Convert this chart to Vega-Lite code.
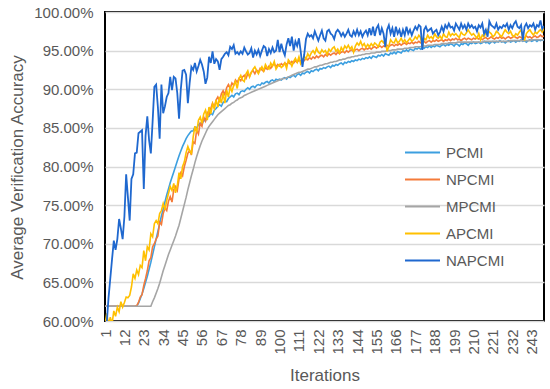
{
"$schema": "https://vega.github.io/schema/vega-lite/v6.json",
"width": 439, "height": 309,
"autosize": {"type": "none"},
"padding": {"left": 105, "top": 12, "right": 6, "bottom": 68},
"background": "white",
"config": {
  "font": "Liberation Sans",
  "view": {"stroke": "#000000", "strokeWidth": 2},
  "axis": {"labelFont": "Liberation Sans", "titleFont": "Liberation Sans", "labelColor": "#595959", "titleColor": "#595959", "titleFontWeight": "normal", "labelFontSize": 15, "titleFontSize": 17, "domain": false, "ticks": false},
  "legend": {"labelFont": "Liberation Sans", "labelFontSize": 15, "labelColor": "#595959"}
},
"data": {"values": [
{"i":1,"PCMI":61.9,"NPCMI":61.9,"MPCMI":61.9,"APCMI":59.5,"NAPCMI":56.5},
{"i":2,"PCMI":61.9,"NPCMI":61.9,"MPCMI":61.9,"APCMI":61.0,"NAPCMI":59.8},
{"i":3,"PCMI":61.9,"NPCMI":61.9,"MPCMI":61.9,"APCMI":59.5,"NAPCMI":63.0},
{"i":4,"PCMI":61.9,"NPCMI":61.9,"MPCMI":61.9,"APCMI":60.5,"NAPCMI":65.5},
{"i":5,"PCMI":61.9,"NPCMI":61.9,"MPCMI":61.9,"APCMI":59.6,"NAPCMI":68.0},
{"i":6,"PCMI":61.9,"NPCMI":61.9,"MPCMI":61.9,"APCMI":61.3,"NAPCMI":70.4},
{"i":7,"PCMI":61.9,"NPCMI":61.9,"MPCMI":61.9,"APCMI":60.6,"NAPCMI":69.2},
{"i":8,"PCMI":61.9,"NPCMI":61.9,"MPCMI":61.9,"APCMI":61.8,"NAPCMI":70.6},
{"i":9,"PCMI":61.9,"NPCMI":61.9,"MPCMI":61.9,"APCMI":61.2,"NAPCMI":73.2},
{"i":10,"PCMI":61.9,"NPCMI":61.9,"MPCMI":61.9,"APCMI":62.5,"NAPCMI":72.0},
{"i":11,"PCMI":61.9,"NPCMI":61.9,"MPCMI":61.9,"APCMI":61.8,"NAPCMI":70.6},
{"i":12,"PCMI":61.9,"NPCMI":61.9,"MPCMI":61.9,"APCMI":62.4,"NAPCMI":73.5},
{"i":13,"PCMI":61.9,"NPCMI":61.9,"MPCMI":61.9,"APCMI":63.1,"NAPCMI":79.0},
{"i":14,"PCMI":61.9,"NPCMI":61.9,"MPCMI":61.9,"APCMI":63.0,"NAPCMI":76.0},
{"i":15,"PCMI":61.9,"NPCMI":61.9,"MPCMI":61.9,"APCMI":63.3,"NAPCMI":73.0},
{"i":16,"PCMI":61.9,"NPCMI":61.9,"MPCMI":61.9,"APCMI":64.4,"NAPCMI":78.4},
{"i":17,"PCMI":61.9,"NPCMI":61.9,"MPCMI":61.9,"APCMI":66.1,"NAPCMI":79.0},
{"i":18,"PCMI":61.9,"NPCMI":61.9,"MPCMI":61.9,"APCMI":65.5,"NAPCMI":81.7},
{"i":19,"PCMI":61.9,"NPCMI":62.0,"MPCMI":61.9,"APCMI":66.6,"NAPCMI":81.8},
{"i":20,"PCMI":62.3,"NPCMI":62.4,"MPCMI":61.9,"APCMI":66.0,"NAPCMI":84.3},
{"i":21,"PCMI":62.9,"NPCMI":63.1,"MPCMI":61.9,"APCMI":67.2,"NAPCMI":84.5},
{"i":22,"PCMI":63.5,"NPCMI":63.4,"MPCMI":61.9,"APCMI":66.9,"NAPCMI":84.7},
{"i":23,"PCMI":64.2,"NPCMI":64.6,"MPCMI":61.9,"APCMI":69.1,"NAPCMI":77.1},
{"i":24,"PCMI":65.0,"NPCMI":65.5,"MPCMI":61.9,"APCMI":67.8,"NAPCMI":84.0},
{"i":25,"PCMI":65.8,"NPCMI":66.5,"MPCMI":61.9,"APCMI":69.6,"NAPCMI":86.5},
{"i":26,"PCMI":66.7,"NPCMI":67.8,"MPCMI":61.9,"APCMI":69.2,"NAPCMI":83.4},
{"i":27,"PCMI":67.6,"NPCMI":68.2,"MPCMI":61.9,"APCMI":71.3,"NAPCMI":81.7},
{"i":28,"PCMI":68.6,"NPCMI":69.6,"MPCMI":62.5,"APCMI":70.9,"NAPCMI":85.8},
{"i":29,"PCMI":69.6,"NPCMI":70.0,"MPCMI":63.0,"APCMI":72.6,"NAPCMI":90.3},
{"i":30,"PCMI":70.6,"NPCMI":70.6,"MPCMI":63.6,"APCMI":73.0,"NAPCMI":90.6},
{"i":31,"PCMI":71.6,"NPCMI":71.0,"MPCMI":64.2,"APCMI":72.6,"NAPCMI":87.7},
{"i":32,"PCMI":72.6,"NPCMI":72.8,"MPCMI":64.9,"APCMI":73.9,"NAPCMI":83.6},
{"i":33,"PCMI":73.6,"NPCMI":72.5,"MPCMI":65.7,"APCMI":74.3,"NAPCMI":90.6},
{"i":34,"PCMI":74.5,"NPCMI":73.9,"MPCMI":66.5,"APCMI":75.2,"NAPCMI":86.9},
{"i":35,"PCMI":75.4,"NPCMI":74.6,"MPCMI":67.2,"APCMI":74.4,"NAPCMI":87.8},
{"i":36,"PCMI":76.3,"NPCMI":74.3,"MPCMI":67.9,"APCMI":75.6,"NAPCMI":89.0},
{"i":37,"PCMI":77.1,"NPCMI":75.5,"MPCMI":68.6,"APCMI":76.5,"NAPCMI":89.5},
{"i":38,"PCMI":77.9,"NPCMI":76.1,"MPCMI":69.2,"APCMI":77.4,"NAPCMI":91.6},
{"i":39,"PCMI":78.6,"NPCMI":75.4,"MPCMI":69.8,"APCMI":76.9,"NAPCMI":89.9},
{"i":40,"PCMI":79.3,"NPCMI":77.0,"MPCMI":70.4,"APCMI":77.8,"NAPCMI":91.6},
{"i":41,"PCMI":80.0,"NPCMI":77.4,"MPCMI":71.0,"APCMI":76.6,"NAPCMI":91.4},
{"i":42,"PCMI":80.7,"NPCMI":76.9,"MPCMI":71.7,"APCMI":77.5,"NAPCMI":89.5},
{"i":43,"PCMI":81.4,"NPCMI":78.4,"MPCMI":72.4,"APCMI":79.2,"NAPCMI":86.2},
{"i":44,"PCMI":82.0,"NPCMI":79.2,"MPCMI":73.3,"APCMI":78.4,"NAPCMI":90.0},
{"i":45,"PCMI":82.6,"NPCMI":78.8,"MPCMI":74.2,"APCMI":80.0,"NAPCMI":92.4},
{"i":46,"PCMI":83.1,"NPCMI":80.0,"MPCMI":75.1,"APCMI":80.6,"NAPCMI":92.5},
{"i":47,"PCMI":83.6,"NPCMI":80.8,"MPCMI":76.0,"APCMI":81.8,"NAPCMI":91.9},
{"i":48,"PCMI":84.0,"NPCMI":81.7,"MPCMI":77.0,"APCMI":82.6,"NAPCMI":88.2},
{"i":49,"PCMI":84.3,"NPCMI":82.1,"MPCMI":77.9,"APCMI":82.0,"NAPCMI":90.8},
{"i":50,"PCMI":84.6,"NPCMI":81.5,"MPCMI":78.8,"APCMI":81.7,"NAPCMI":92.9},
{"i":51,"PCMI":84.6,"NPCMI":83.2,"MPCMI":79.6,"APCMI":83.8,"NAPCMI":92.5},
{"i":52,"PCMI":85.1,"NPCMI":83.0,"MPCMI":80.5,"APCMI":85.2,"NAPCMI":93.4},
{"i":53,"PCMI":85.0,"NPCMI":84.7,"MPCMI":81.3,"APCMI":84.4,"NAPCMI":92.3},
{"i":54,"PCMI":85.4,"NPCMI":84.2,"MPCMI":82.0,"APCMI":86.0,"NAPCMI":93.0},
{"i":55,"PCMI":85.6,"NPCMI":85.6,"MPCMI":82.7,"APCMI":86.4,"NAPCMI":93.8},
{"i":56,"PCMI":85.5,"NPCMI":85.2,"MPCMI":83.3,"APCMI":85.6,"NAPCMI":93.2},
{"i":57,"PCMI":86.0,"NPCMI":86.4,"MPCMI":83.8,"APCMI":86.8,"NAPCMI":92.3},
{"i":58,"PCMI":85.9,"NPCMI":85.9,"MPCMI":84.3,"APCMI":87.3,"NAPCMI":90.7},
{"i":59,"PCMI":86.4,"NPCMI":87.0,"MPCMI":84.8,"APCMI":86.0,"NAPCMI":91.5},
{"i":60,"PCMI":86.5,"NPCMI":86.7,"MPCMI":85.2,"APCMI":87.7,"NAPCMI":94.2},
{"i":61,"PCMI":86.9,"NPCMI":87.5,"MPCMI":85.5,"APCMI":86.8,"NAPCMI":93.4},
{"i":62,"PCMI":86.7,"NPCMI":88.2,"MPCMI":85.8,"APCMI":88.1,"NAPCMI":94.9},
{"i":63,"PCMI":87.3,"NPCMI":87.6,"MPCMI":86.1,"APCMI":87.5,"NAPCMI":93.3},
{"i":64,"PCMI":87.5,"NPCMI":88.6,"MPCMI":86.4,"APCMI":88.6,"NAPCMI":93.9},
{"i":65,"PCMI":87.8,"NPCMI":89.0,"MPCMI":86.7,"APCMI":87.7,"NAPCMI":93.6},
{"i":66,"PCMI":88.0,"NPCMI":88.5,"MPCMI":86.9,"APCMI":89.0,"NAPCMI":92.5},
{"i":67,"PCMI":87.8,"NPCMI":89.4,"MPCMI":87.1,"APCMI":88.2,"NAPCMI":93.9},
{"i":68,"PCMI":88.3,"NPCMI":89.8,"MPCMI":87.3,"APCMI":89.5,"NAPCMI":94.2},
{"i":69,"PCMI":88.5,"NPCMI":89.3,"MPCMI":87.5,"APCMI":88.2,"NAPCMI":94.6},
{"i":70,"PCMI":88.4,"NPCMI":90.2,"MPCMI":87.7,"APCMI":89.9,"NAPCMI":94.8},
{"i":71,"PCMI":88.8,"NPCMI":90.6,"MPCMI":87.9,"APCMI":89.0,"NAPCMI":94.4},
{"i":72,"PCMI":89.0,"NPCMI":90.1,"MPCMI":88.0,"APCMI":90.3,"NAPCMI":95.5},
{"i":73,"PCMI":89.2,"NPCMI":90.8,"MPCMI":88.2,"APCMI":89.7,"NAPCMI":95.2},
{"i":74,"PCMI":89.0,"NPCMI":90.5,"MPCMI":88.3,"APCMI":90.5,"NAPCMI":95.7},
{"i":75,"PCMI":89.4,"NPCMI":91.2,"MPCMI":88.5,"APCMI":91.0,"NAPCMI":94.6},
{"i":76,"PCMI":89.5,"NPCMI":90.9,"MPCMI":88.6,"APCMI":90.1,"NAPCMI":94.8},
{"i":77,"PCMI":89.3,"NPCMI":91.4,"MPCMI":88.8,"APCMI":91.4,"NAPCMI":94.5},
{"i":78,"PCMI":89.7,"NPCMI":91.1,"MPCMI":88.9,"APCMI":91.8,"NAPCMI":94.9},
{"i":79,"PCMI":89.8,"NPCMI":91.6,"MPCMI":89.0,"APCMI":91.2,"NAPCMI":94.6},
{"i":80,"PCMI":89.7,"NPCMI":91.8,"MPCMI":89.2,"APCMI":91.0,"NAPCMI":95.4},
{"i":81,"PCMI":90.0,"NPCMI":91.4,"MPCMI":89.3,"APCMI":92.0,"NAPCMI":94.9},
{"i":82,"PCMI":90.2,"NPCMI":92.0,"MPCMI":89.4,"APCMI":92.4,"NAPCMI":94.5},
{"i":83,"PCMI":90.0,"NPCMI":91.7,"MPCMI":89.5,"APCMI":91.6,"NAPCMI":94.7},
{"i":84,"PCMI":90.3,"NPCMI":92.2,"MPCMI":89.6,"APCMI":92.2,"NAPCMI":95.3},
{"i":85,"PCMI":90.4,"NPCMI":92.4,"MPCMI":89.7,"APCMI":92.6,"NAPCMI":94.1},
{"i":86,"PCMI":90.2,"NPCMI":92.0,"MPCMI":89.8,"APCMI":92.9,"NAPCMI":95.0},
{"i":87,"PCMI":90.5,"NPCMI":92.5,"MPCMI":89.9,"APCMI":92.4,"NAPCMI":94.5},
{"i":88,"PCMI":90.6,"NPCMI":92.2,"MPCMI":90.0,"APCMI":92.0,"NAPCMI":95.1},
{"i":89,"PCMI":90.5,"NPCMI":92.7,"MPCMI":90.1,"APCMI":92.5,"NAPCMI":94.3},
{"i":90,"PCMI":90.8,"NPCMI":92.5,"MPCMI":90.2,"APCMI":92.9,"NAPCMI":95.0},
{"i":91,"PCMI":90.7,"NPCMI":92.3,"MPCMI":90.3,"APCMI":92.4,"NAPCMI":95.6},
{"i":92,"PCMI":90.9,"NPCMI":92.8,"MPCMI":90.4,"APCMI":93.2,"NAPCMI":95.4},
{"i":93,"PCMI":91.0,"NPCMI":92.6,"MPCMI":90.5,"APCMI":92.8,"NAPCMI":94.3},
{"i":94,"PCMI":90.8,"NPCMI":93.0,"MPCMI":90.6,"APCMI":92.6,"NAPCMI":95.2},
{"i":95,"PCMI":91.1,"NPCMI":92.7,"MPCMI":90.7,"APCMI":93.4,"NAPCMI":94.7},
{"i":96,"PCMI":91.2,"NPCMI":93.1,"MPCMI":90.8,"APCMI":93.0,"NAPCMI":95.4},
{"i":97,"PCMI":91.0,"NPCMI":93.3,"MPCMI":90.9,"APCMI":93.6,"NAPCMI":94.8},
{"i":98,"PCMI":91.3,"NPCMI":92.9,"MPCMI":91.0,"APCMI":92.6,"NAPCMI":95.0},
{"i":99,"PCMI":91.2,"NPCMI":93.2,"MPCMI":91.1,"APCMI":93.0,"NAPCMI":96.4},
{"i":100,"PCMI":91.3,"NPCMI":93.0,"MPCMI":91.2,"APCMI":93.2,"NAPCMI":94.8},
{"i":101,"PCMI":91.2,"NPCMI":93.3,"MPCMI":91.3,"APCMI":92.8,"NAPCMI":95.9},
{"i":102,"PCMI":91.4,"NPCMI":93.1,"MPCMI":91.4,"APCMI":93.0,"NAPCMI":95.0},
{"i":103,"PCMI":91.5,"NPCMI":93.4,"MPCMI":91.4,"APCMI":93.4,"NAPCMI":94.4},
{"i":104,"PCMI":91.3,"NPCMI":93.2,"MPCMI":91.5,"APCMI":92.7,"NAPCMI":95.8},
{"i":105,"PCMI":91.6,"NPCMI":93.5,"MPCMI":91.6,"APCMI":93.8,"NAPCMI":96.6},
{"i":106,"PCMI":91.5,"NPCMI":93.3,"MPCMI":91.7,"APCMI":93.5,"NAPCMI":95.6},
{"i":107,"PCMI":91.7,"NPCMI":93.6,"MPCMI":91.8,"APCMI":93.0,"NAPCMI":96.8},
{"i":108,"PCMI":91.8,"NPCMI":93.4,"MPCMI":91.9,"APCMI":93.6,"NAPCMI":95.0},
{"i":109,"PCMI":91.6,"NPCMI":93.7,"MPCMI":92.0,"APCMI":94.0,"NAPCMI":96.2},
{"i":110,"PCMI":91.9,"NPCMI":93.5,"MPCMI":92.1,"APCMI":93.5,"NAPCMI":95.6},
{"i":111,"PCMI":92.0,"NPCMI":93.8,"MPCMI":92.2,"APCMI":94.2,"NAPCMI":96.6},
{"i":112,"PCMI":91.8,"NPCMI":93.6,"MPCMI":92.2,"APCMI":93.3,"NAPCMI":94.9},
{"i":113,"PCMI":92.1,"NPCMI":93.9,"MPCMI":92.3,"APCMI":93.7,"NAPCMI":92.9},
{"i":114,"PCMI":92.0,"NPCMI":93.7,"MPCMI":92.4,"APCMI":94.3,"NAPCMI":94.5},
{"i":115,"PCMI":92.2,"NPCMI":94.0,"MPCMI":92.5,"APCMI":93.9,"NAPCMI":96.5},
{"i":116,"PCMI":92.3,"NPCMI":93.8,"MPCMI":92.6,"APCMI":94.6,"NAPCMI":97.2},
{"i":117,"PCMI":92.1,"NPCMI":94.1,"MPCMI":92.6,"APCMI":94.2,"NAPCMI":96.8},
{"i":118,"PCMI":92.4,"NPCMI":93.9,"MPCMI":92.7,"APCMI":94.7,"NAPCMI":97.0},
{"i":119,"PCMI":92.3,"NPCMI":94.2,"MPCMI":92.8,"APCMI":95.0,"NAPCMI":96.6},
{"i":120,"PCMI":92.5,"NPCMI":94.0,"MPCMI":92.9,"APCMI":94.6,"NAPCMI":97.5},
{"i":121,"PCMI":92.6,"NPCMI":94.3,"MPCMI":92.9,"APCMI":95.3,"NAPCMI":96.9},
{"i":122,"PCMI":92.4,"NPCMI":94.1,"MPCMI":93.0,"APCMI":94.8,"NAPCMI":96.3},
{"i":123,"PCMI":92.7,"NPCMI":94.3,"MPCMI":93.1,"APCMI":94.6,"NAPCMI":97.0},
{"i":124,"PCMI":92.6,"NPCMI":94.4,"MPCMI":93.1,"APCMI":95.1,"NAPCMI":97.6},
{"i":125,"PCMI":92.8,"NPCMI":94.2,"MPCMI":93.2,"APCMI":94.8,"NAPCMI":96.6},
{"i":126,"PCMI":92.7,"NPCMI":94.5,"MPCMI":93.3,"APCMI":95.0,"NAPCMI":96.3},
{"i":127,"PCMI":92.9,"NPCMI":94.3,"MPCMI":93.3,"APCMI":94.5,"NAPCMI":97.5},
{"i":128,"PCMI":93.0,"NPCMI":94.6,"MPCMI":93.4,"APCMI":95.2,"NAPCMI":97.7},
{"i":129,"PCMI":92.8,"NPCMI":94.4,"MPCMI":93.5,"APCMI":94.9,"NAPCMI":97.2},
{"i":130,"PCMI":93.1,"NPCMI":94.6,"MPCMI":93.5,"APCMI":95.3,"NAPCMI":97.0},
{"i":131,"PCMI":93.0,"NPCMI":94.7,"MPCMI":93.6,"APCMI":95.5,"NAPCMI":96.5},
{"i":132,"PCMI":93.2,"NPCMI":94.5,"MPCMI":93.6,"APCMI":94.9,"NAPCMI":97.4},
{"i":133,"PCMI":93.1,"NPCMI":94.8,"MPCMI":93.7,"APCMI":95.2,"NAPCMI":97.7},
{"i":134,"PCMI":93.3,"NPCMI":94.6,"MPCMI":93.8,"APCMI":94.7,"NAPCMI":97.4},
{"i":135,"PCMI":93.4,"NPCMI":94.8,"MPCMI":93.8,"APCMI":95.4,"NAPCMI":96.9},
{"i":136,"PCMI":93.2,"NPCMI":94.9,"MPCMI":93.9,"APCMI":95.0,"NAPCMI":97.3},
{"i":137,"PCMI":93.5,"NPCMI":94.7,"MPCMI":93.9,"APCMI":95.6,"NAPCMI":96.8},
{"i":138,"PCMI":93.4,"NPCMI":95.0,"MPCMI":94.0,"APCMI":95.3,"NAPCMI":97.2},
{"i":139,"PCMI":93.6,"NPCMI":94.8,"MPCMI":94.1,"APCMI":95.7,"NAPCMI":97.7},
{"i":140,"PCMI":93.5,"NPCMI":95.0,"MPCMI":94.1,"APCMI":95.2,"NAPCMI":97.0},
{"i":141,"PCMI":93.7,"NPCMI":95.1,"MPCMI":94.2,"APCMI":95.5,"NAPCMI":96.8},
{"i":142,"PCMI":93.6,"NPCMI":94.9,"MPCMI":94.2,"APCMI":94.8,"NAPCMI":97.5},
{"i":143,"PCMI":93.8,"NPCMI":95.1,"MPCMI":94.3,"APCMI":95.6,"NAPCMI":97.0},
{"i":144,"PCMI":93.7,"NPCMI":95.2,"MPCMI":94.3,"APCMI":96.0,"NAPCMI":97.7},
{"i":145,"PCMI":93.9,"NPCMI":95.0,"MPCMI":94.4,"APCMI":95.7,"NAPCMI":97.0},
{"i":146,"PCMI":93.8,"NPCMI":95.2,"MPCMI":94.4,"APCMI":96.2,"NAPCMI":97.5},
{"i":147,"PCMI":94.0,"NPCMI":95.3,"MPCMI":94.5,"APCMI":95.6,"NAPCMI":96.8},
{"i":148,"PCMI":93.9,"NPCMI":95.1,"MPCMI":94.5,"APCMI":95.9,"NAPCMI":97.3},
{"i":149,"PCMI":94.1,"NPCMI":95.3,"MPCMI":94.6,"APCMI":95.4,"NAPCMI":97.6},
{"i":150,"PCMI":94.0,"NPCMI":95.2,"MPCMI":94.6,"APCMI":95.8,"NAPCMI":97.0},
{"i":151,"PCMI":94.2,"NPCMI":95.4,"MPCMI":94.6,"APCMI":95.5,"NAPCMI":97.9},
{"i":152,"PCMI":94.0,"NPCMI":95.2,"MPCMI":94.7,"APCMI":95.9,"NAPCMI":97.0},
{"i":153,"PCMI":94.3,"NPCMI":95.4,"MPCMI":94.7,"APCMI":95.6,"NAPCMI":98.1},
{"i":154,"PCMI":94.2,"NPCMI":95.5,"MPCMI":94.7,"APCMI":96.0,"NAPCMI":96.9},
{"i":155,"PCMI":94.1,"NPCMI":95.3,"MPCMI":94.8,"APCMI":95.8,"NAPCMI":97.9},
{"i":156,"PCMI":94.4,"NPCMI":95.5,"MPCMI":94.8,"APCMI":95.5,"NAPCMI":98.3},
{"i":157,"PCMI":94.3,"NPCMI":95.6,"MPCMI":94.8,"APCMI":96.1,"NAPCMI":97.0},
{"i":158,"PCMI":94.5,"NPCMI":95.4,"MPCMI":94.9,"APCMI":96.3,"NAPCMI":97.9},
{"i":159,"PCMI":94.3,"NPCMI":95.6,"MPCMI":94.9,"APCMI":96.0,"NAPCMI":97.2},
{"i":160,"PCMI":94.6,"NPCMI":95.5,"MPCMI":94.9,"APCMI":96.4,"NAPCMI":95.5},
{"i":161,"PCMI":94.5,"NPCMI":95.7,"MPCMI":95.0,"APCMI":94.9,"NAPCMI":97.7},
{"i":162,"PCMI":94.4,"NPCMI":95.5,"MPCMI":95.0,"APCMI":95.6,"NAPCMI":98.3},
{"i":163,"PCMI":94.7,"NPCMI":95.7,"MPCMI":95.0,"APCMI":96.4,"NAPCMI":97.2},
{"i":164,"PCMI":94.6,"NPCMI":95.8,"MPCMI":95.1,"APCMI":96.1,"NAPCMI":97.9},
{"i":165,"PCMI":94.8,"NPCMI":95.6,"MPCMI":95.1,"APCMI":96.0,"NAPCMI":96.8},
{"i":166,"PCMI":94.6,"NPCMI":95.8,"MPCMI":95.1,"APCMI":96.5,"NAPCMI":98.1},
{"i":167,"PCMI":94.9,"NPCMI":95.7,"MPCMI":95.2,"APCMI":96.0,"NAPCMI":97.2},
{"i":168,"PCMI":94.8,"NPCMI":95.9,"MPCMI":95.2,"APCMI":96.2,"NAPCMI":97.7},
{"i":169,"PCMI":94.7,"NPCMI":95.7,"MPCMI":95.2,"APCMI":96.6,"NAPCMI":96.8},
{"i":170,"PCMI":95.0,"NPCMI":95.9,"MPCMI":95.2,"APCMI":96.1,"NAPCMI":97.7},
{"i":171,"PCMI":94.9,"NPCMI":96.0,"MPCMI":95.3,"APCMI":96.4,"NAPCMI":97.0},
{"i":172,"PCMI":95.1,"NPCMI":95.8,"MPCMI":95.3,"APCMI":96.0,"NAPCMI":98.1},
{"i":173,"PCMI":94.9,"NPCMI":96.0,"MPCMI":95.3,"APCMI":96.3,"NAPCMI":97.2},
{"i":174,"PCMI":95.2,"NPCMI":95.9,"MPCMI":95.4,"APCMI":96.6,"NAPCMI":97.7},
{"i":175,"PCMI":95.1,"NPCMI":96.1,"MPCMI":95.4,"APCMI":96.2,"NAPCMI":97.0},
{"i":176,"PCMI":95.0,"NPCMI":95.9,"MPCMI":95.4,"APCMI":96.4,"NAPCMI":97.6},
{"i":177,"PCMI":95.3,"NPCMI":96.1,"MPCMI":95.5,"APCMI":96.8,"NAPCMI":98.1},
{"i":178,"PCMI":95.2,"NPCMI":96.0,"MPCMI":95.5,"APCMI":96.5,"NAPCMI":97.7},
{"i":179,"PCMI":95.4,"NPCMI":96.2,"MPCMI":95.5,"APCMI":97.0,"NAPCMI":98.3},
{"i":180,"PCMI":95.2,"NPCMI":96.0,"MPCMI":95.5,"APCMI":96.7,"NAPCMI":98.1},
{"i":181,"PCMI":95.4,"NPCMI":96.1,"MPCMI":95.6,"APCMI":95.5,"NAPCMI":95.1},
{"i":182,"PCMI":95.3,"NPCMI":96.2,"MPCMI":95.6,"APCMI":96.6,"NAPCMI":97.7},
{"i":183,"PCMI":95.5,"NPCMI":96.0,"MPCMI":95.6,"APCMI":96.4,"NAPCMI":98.1},
{"i":184,"PCMI":95.4,"NPCMI":96.2,"MPCMI":95.7,"APCMI":97.0,"NAPCMI":97.5},
{"i":185,"PCMI":95.6,"NPCMI":96.3,"MPCMI":95.7,"APCMI":96.6,"NAPCMI":97.7},
{"i":186,"PCMI":95.4,"NPCMI":96.1,"MPCMI":95.7,"APCMI":96.8,"NAPCMI":97.9},
{"i":187,"PCMI":95.6,"NPCMI":96.3,"MPCMI":95.7,"APCMI":96.5,"NAPCMI":97.2},
{"i":188,"PCMI":95.5,"NPCMI":96.2,"MPCMI":95.8,"APCMI":97.2,"NAPCMI":97.5},
{"i":189,"PCMI":95.7,"NPCMI":96.4,"MPCMI":95.8,"APCMI":96.8,"NAPCMI":97.7},
{"i":190,"PCMI":95.6,"NPCMI":96.2,"MPCMI":95.8,"APCMI":96.6,"NAPCMI":97.0},
{"i":191,"PCMI":95.5,"NPCMI":96.3,"MPCMI":95.8,"APCMI":96.9,"NAPCMI":97.4},
{"i":192,"PCMI":95.7,"NPCMI":96.4,"MPCMI":95.9,"APCMI":96.5,"NAPCMI":98.1},
{"i":193,"PCMI":95.8,"NPCMI":96.2,"MPCMI":95.9,"APCMI":97.2,"NAPCMI":97.5},
{"i":194,"PCMI":95.6,"NPCMI":96.4,"MPCMI":95.9,"APCMI":96.8,"NAPCMI":98.3},
{"i":195,"PCMI":95.8,"NPCMI":96.3,"MPCMI":95.9,"APCMI":96.7,"NAPCMI":97.9},
{"i":196,"PCMI":95.7,"NPCMI":96.5,"MPCMI":96.0,"APCMI":97.4,"NAPCMI":98.5},
{"i":197,"PCMI":95.9,"NPCMI":96.3,"MPCMI":96.0,"APCMI":96.9,"NAPCMI":98.0},
{"i":198,"PCMI":95.8,"NPCMI":96.5,"MPCMI":96.0,"APCMI":97.2,"NAPCMI":98.1},
{"i":199,"PCMI":95.6,"NPCMI":96.4,"MPCMI":96.0,"APCMI":97.0,"NAPCMI":97.6},
{"i":200,"PCMI":95.9,"NPCMI":96.6,"MPCMI":96.0,"APCMI":97.2,"NAPCMI":98.5},
{"i":201,"PCMI":95.8,"NPCMI":96.4,"MPCMI":96.1,"APCMI":96.9,"NAPCMI":98.1},
{"i":202,"PCMI":95.6,"NPCMI":96.5,"MPCMI":96.1,"APCMI":96.7,"NAPCMI":97.7},
{"i":203,"PCMI":95.9,"NPCMI":96.3,"MPCMI":96.1,"APCMI":97.4,"NAPCMI":98.5},
{"i":204,"PCMI":95.8,"NPCMI":96.5,"MPCMI":96.1,"APCMI":97.1,"NAPCMI":97.9},
{"i":205,"PCMI":96.0,"NPCMI":96.6,"MPCMI":96.1,"APCMI":97.0,"NAPCMI":98.3},
{"i":206,"PCMI":95.9,"NPCMI":96.4,"MPCMI":96.1,"APCMI":97.3,"NAPCMI":97.7},
{"i":207,"PCMI":95.7,"NPCMI":96.6,"MPCMI":96.1,"APCMI":97.7,"NAPCMI":98.5},
{"i":208,"PCMI":96.0,"NPCMI":96.5,"MPCMI":96.1,"APCMI":97.3,"NAPCMI":98.0},
{"i":209,"PCMI":95.9,"NPCMI":96.4,"MPCMI":96.1,"APCMI":97.0,"NAPCMI":98.3},
{"i":210,"PCMI":96.1,"NPCMI":96.6,"MPCMI":96.1,"APCMI":97.2,"NAPCMI":97.9},
{"i":211,"PCMI":95.9,"NPCMI":96.5,"MPCMI":96.1,"APCMI":96.9,"NAPCMI":98.1},
{"i":212,"PCMI":96.0,"NPCMI":96.7,"MPCMI":96.1,"APCMI":96.6,"NAPCMI":97.5},
{"i":213,"PCMI":96.1,"NPCMI":96.5,"MPCMI":96.1,"APCMI":97.2,"NAPCMI":98.3},
{"i":214,"PCMI":95.9,"NPCMI":96.6,"MPCMI":96.1,"APCMI":96.4,"NAPCMI":98.0},
{"i":215,"PCMI":96.0,"NPCMI":96.4,"MPCMI":96.1,"APCMI":97.0,"NAPCMI":98.5},
{"i":216,"PCMI":96.2,"NPCMI":96.6,"MPCMI":96.2,"APCMI":96.8,"NAPCMI":97.2},
{"i":217,"PCMI":96.0,"NPCMI":96.7,"MPCMI":96.2,"APCMI":97.3,"NAPCMI":97.7},
{"i":218,"PCMI":96.1,"NPCMI":96.5,"MPCMI":96.2,"APCMI":97.7,"NAPCMI":96.8},
{"i":219,"PCMI":95.9,"NPCMI":96.6,"MPCMI":96.2,"APCMI":97.4,"NAPCMI":98.8},
{"i":220,"PCMI":96.1,"NPCMI":96.8,"MPCMI":96.2,"APCMI":97.2,"NAPCMI":98.3},
{"i":221,"PCMI":96.2,"NPCMI":96.6,"MPCMI":96.2,"APCMI":96.8,"NAPCMI":98.1},
{"i":222,"PCMI":96.0,"NPCMI":96.5,"MPCMI":96.2,"APCMI":97.0,"NAPCMI":97.9},
{"i":223,"PCMI":96.2,"NPCMI":96.7,"MPCMI":96.2,"APCMI":97.5,"NAPCMI":98.5},
{"i":224,"PCMI":96.1,"NPCMI":96.6,"MPCMI":96.2,"APCMI":97.3,"NAPCMI":97.7},
{"i":225,"PCMI":96.3,"NPCMI":96.8,"MPCMI":96.2,"APCMI":97.0,"NAPCMI":98.1},
{"i":226,"PCMI":96.1,"NPCMI":96.6,"MPCMI":96.2,"APCMI":96.8,"NAPCMI":97.9},
{"i":227,"PCMI":96.2,"NPCMI":96.7,"MPCMI":96.2,"APCMI":97.3,"NAPCMI":98.3},
{"i":228,"PCMI":96.0,"NPCMI":96.5,"MPCMI":96.2,"APCMI":97.7,"NAPCMI":98.1},
{"i":229,"PCMI":96.2,"NPCMI":96.7,"MPCMI":96.2,"APCMI":97.4,"NAPCMI":98.5},
{"i":230,"PCMI":96.3,"NPCMI":96.8,"MPCMI":96.2,"APCMI":97.2,"NAPCMI":97.7},
{"i":231,"PCMI":96.1,"NPCMI":96.6,"MPCMI":96.3,"APCMI":97.5,"NAPCMI":98.3},
{"i":232,"PCMI":96.2,"NPCMI":96.7,"MPCMI":96.3,"APCMI":97.0,"NAPCMI":97.9},
{"i":233,"PCMI":96.3,"NPCMI":96.9,"MPCMI":96.3,"APCMI":96.8,"NAPCMI":98.5},
{"i":234,"PCMI":96.1,"NPCMI":96.7,"MPCMI":96.3,"APCMI":97.2,"NAPCMI":98.8},
{"i":235,"PCMI":96.3,"NPCMI":96.6,"MPCMI":96.3,"APCMI":97.0,"NAPCMI":98.1},
{"i":236,"PCMI":96.2,"NPCMI":96.8,"MPCMI":96.3,"APCMI":97.4,"NAPCMI":97.9},
{"i":237,"PCMI":96.4,"NPCMI":96.7,"MPCMI":96.3,"APCMI":97.7,"NAPCMI":98.3},
{"i":238,"PCMI":96.2,"NPCMI":96.5,"MPCMI":96.3,"APCMI":96.6,"NAPCMI":96.4},
{"i":239,"PCMI":96.3,"NPCMI":96.7,"MPCMI":96.3,"APCMI":96.4,"NAPCMI":98.1},
{"i":240,"PCMI":96.1,"NPCMI":96.9,"MPCMI":96.3,"APCMI":97.2,"NAPCMI":98.5},
{"i":241,"PCMI":96.3,"NPCMI":96.7,"MPCMI":96.3,"APCMI":97.5,"NAPCMI":97.9},
{"i":242,"PCMI":96.4,"NPCMI":96.8,"MPCMI":96.3,"APCMI":97.7,"NAPCMI":98.3},
{"i":243,"PCMI":96.2,"NPCMI":96.6,"MPCMI":96.4,"APCMI":97.3,"NAPCMI":98.1},
{"i":244,"PCMI":96.3,"NPCMI":96.8,"MPCMI":96.4,"APCMI":97.0,"NAPCMI":98.5},
{"i":245,"PCMI":96.4,"NPCMI":96.9,"MPCMI":96.4,"APCMI":97.4,"NAPCMI":97.7},
{"i":246,"PCMI":96.2,"NPCMI":96.7,"MPCMI":96.4,"APCMI":97.2,"NAPCMI":98.3},
{"i":247,"PCMI":96.4,"NPCMI":96.8,"MPCMI":96.4,"APCMI":97.5,"NAPCMI":98.1},
{"i":248,"PCMI":96.3,"NPCMI":97.0,"MPCMI":96.4,"APCMI":97.7,"NAPCMI":98.9},
{"i":249,"PCMI":96.4,"NPCMI":96.8,"MPCMI":96.4,"APCMI":97.4,"NAPCMI":97.8},
{"i":250,"PCMI":96.3,"NPCMI":96.9,"MPCMI":96.4,"APCMI":97.9,"NAPCMI":98.2}
]},
"transform": [{"fold": ["PCMI", "NPCMI", "MPCMI", "APCMI", "NAPCMI"], "as": ["series", "acc"]}],
"encoding": {
  "x": {"field": "i", "type": "quantitative",
    "scale": {"domain": [1, 250], "nice": false, "zero": false},
    "axis": {"title": "Iterations", "values": [1,12,23,34,45,56,67,78,89,100,111,122,133,144,155,166,177,188,199,210,221,232,243],
      "labelAngle": -90, "labelAlign": "right", "labelBaseline": "middle", "labelPadding": 8, "grid": false,
      "labelFlush": false, "labelOverlap": false, "titleY": 46, "titleBaseline": "top", "titleFontSize": 17}},
  "y": {"field": "acc", "type": "quantitative",
    "scale": {"domain": [60, 100], "nice": false, "zero": false},
    "axis": {"title": "Average Verification Accuracy", "values": [60,65,70,75,80,85,90,95,100],
      "labelExpr": "format(datum.value, '.2f') + '%'", "labelPadding": 12,
      "gridColor": "#D9D9D9", "gridWidth": 1.5,
      "titleX": -88, "titleY": 155, "titleAngle": -90, "titleBaseline": "middle", "titleAlign": "center"}},
  "color": {"field": "series", "type": "nominal",
    "scale": {"domain": ["PCMI", "NPCMI", "MPCMI", "APCMI", "NAPCMI"], "range": ["#3C9FE0", "#F47B3A", "#A5A5A5", "#FFC000", "#1F68CF"]},
    "legend": {"title": null, "orient": "none", "legendX": 299, "legendY": 122, "symbolType": "stroke", "symbolSize": 1225,
      "symbolStrokeWidth": 1.8, "labelOffset": 5, "rowPadding": -8, "padding": 0, "labelFontSize": 15, "labelColor": "#595959"}}
},
"layer": [
  {"transform": [{"filter": {"field": "series", "equal": "PCMI"}}], "mark": {"type": "line", "clip": true, "strokeWidth": 1.6}},
  {"transform": [{"filter": {"field": "series", "equal": "NPCMI"}}], "mark": {"type": "line", "clip": true, "strokeWidth": 1.6}},
  {"transform": [{"filter": {"field": "series", "equal": "MPCMI"}}], "mark": {"type": "line", "clip": true, "strokeWidth": 1.6}},
  {"transform": [{"filter": {"field": "series", "equal": "APCMI"}}], "mark": {"type": "line", "clip": true, "strokeWidth": 1.6}},
  {"transform": [{"filter": {"field": "series", "equal": "NAPCMI"}}], "mark": {"type": "line", "clip": true, "strokeWidth": 1.8}}
]
}
